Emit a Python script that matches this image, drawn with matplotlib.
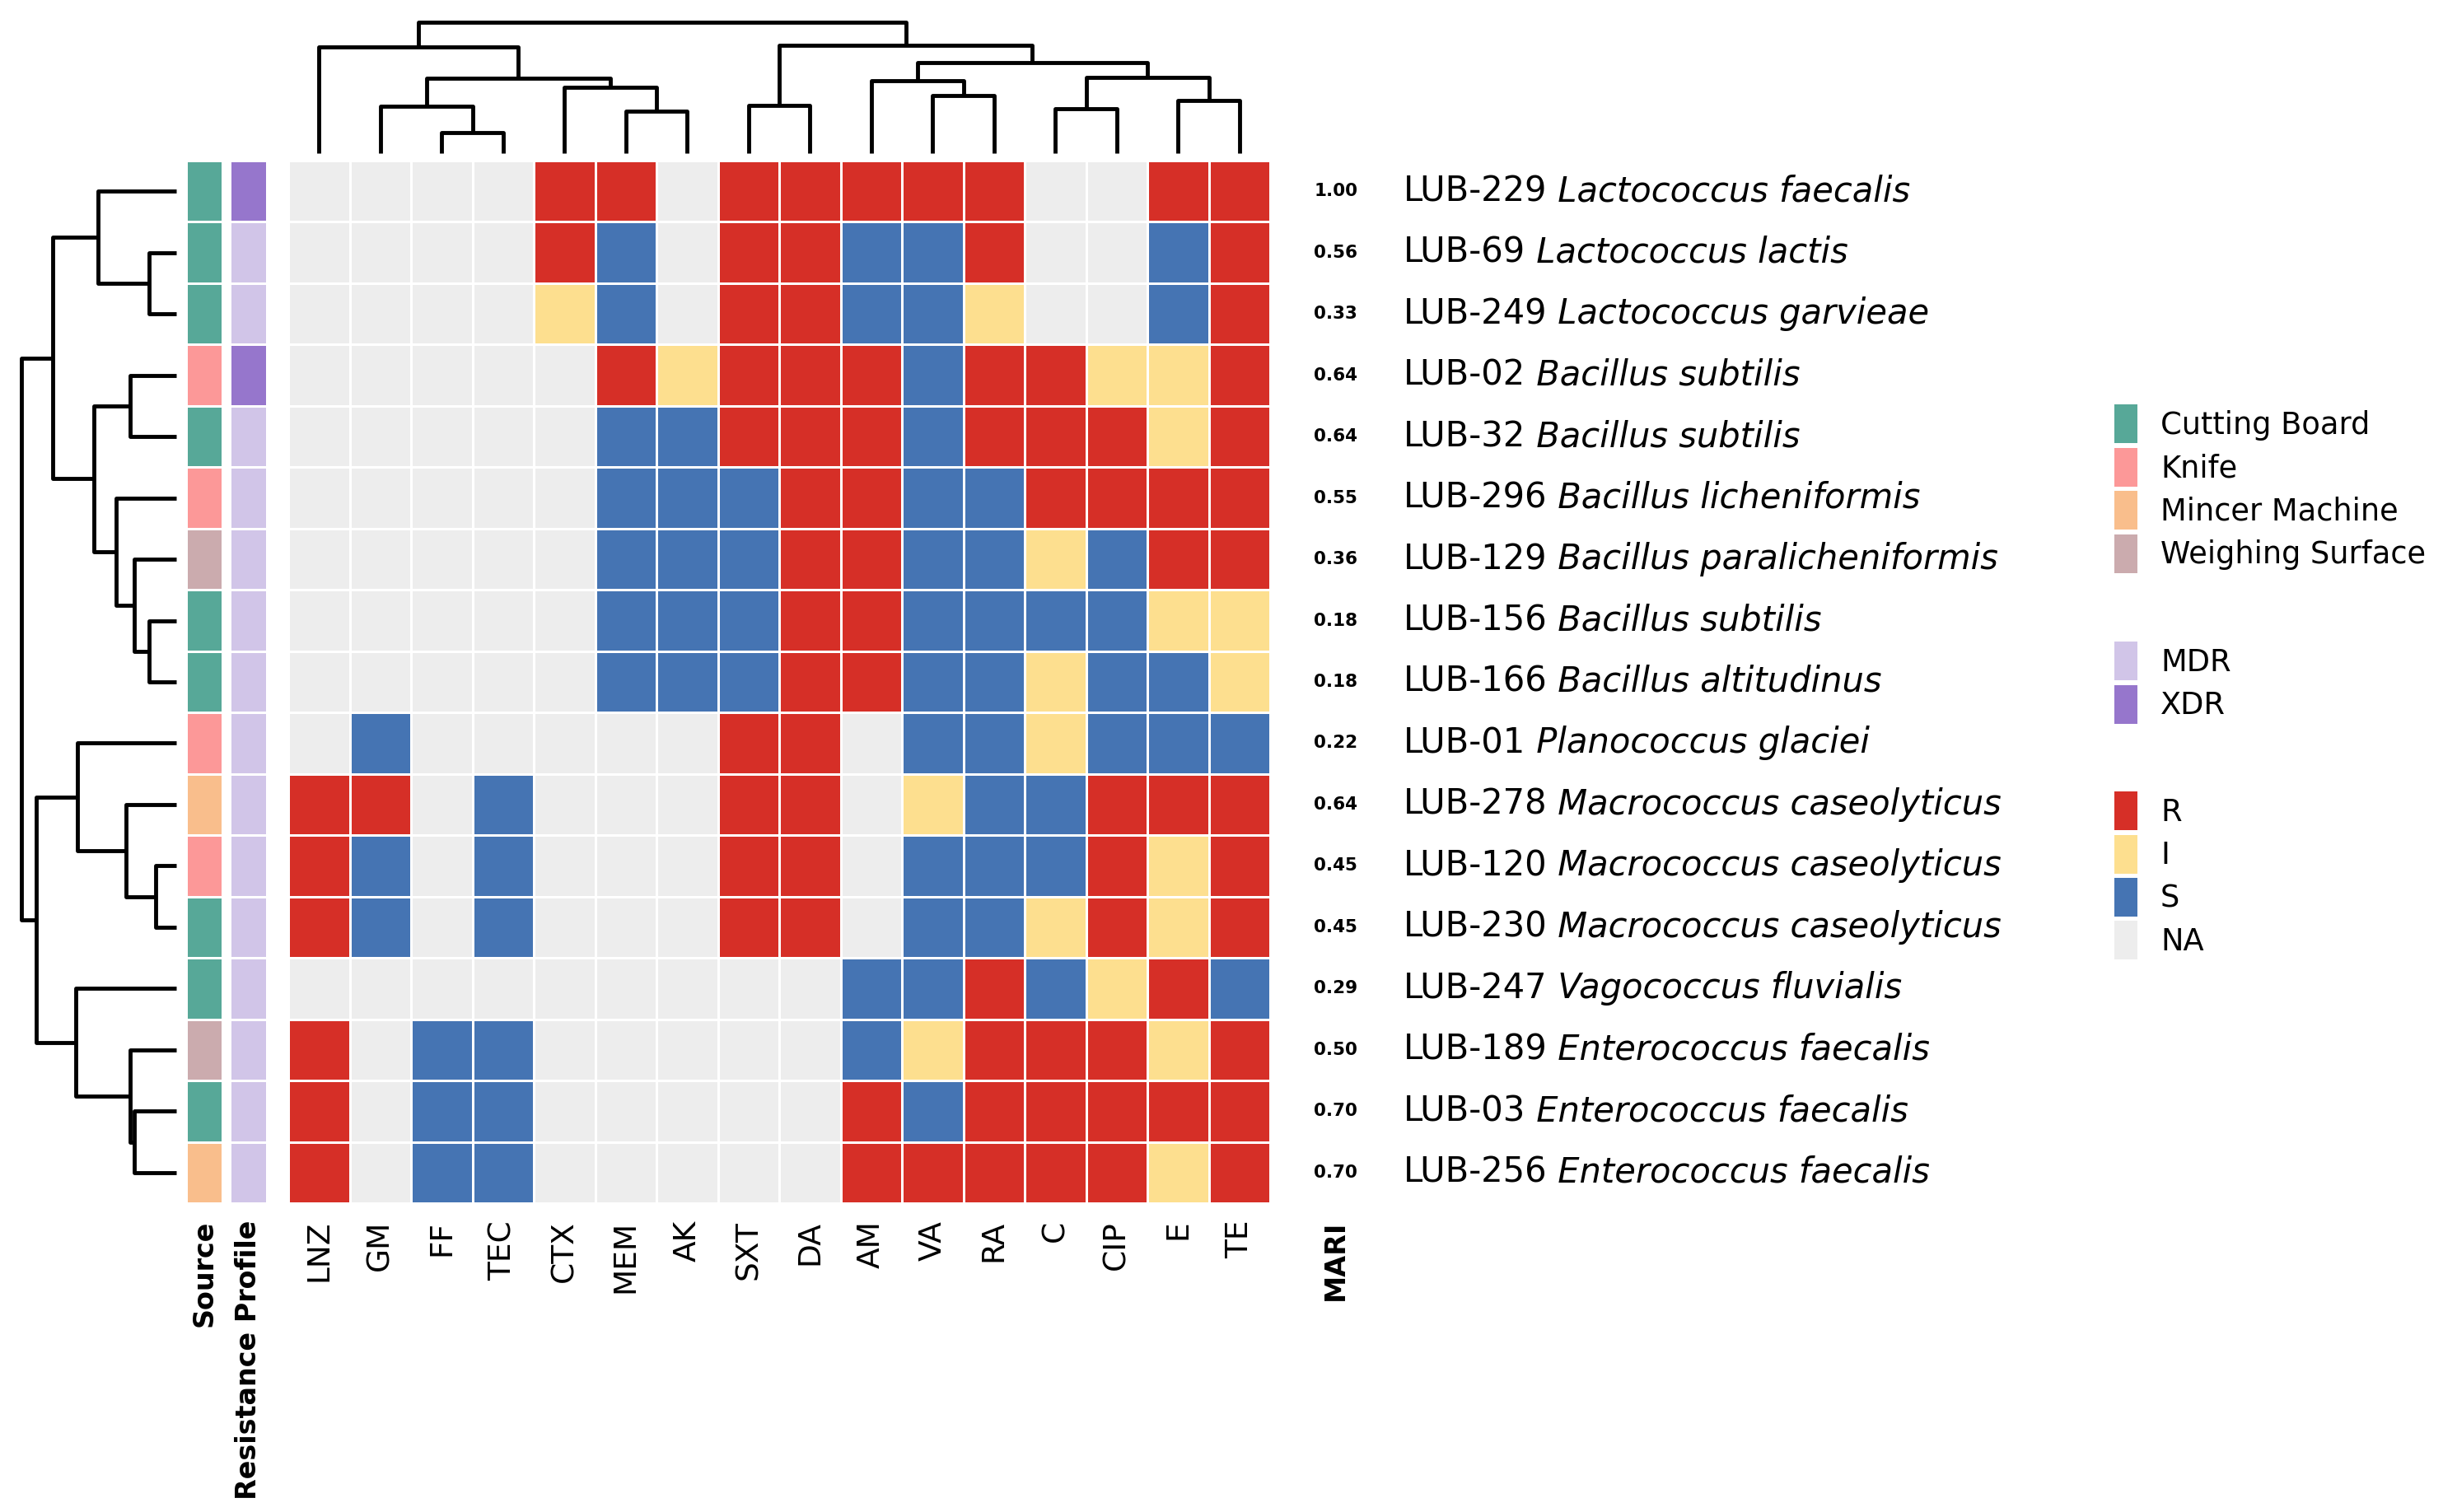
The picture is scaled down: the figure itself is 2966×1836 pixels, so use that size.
import numpy as np
import matplotlib.pyplot as plt
from matplotlib.colors import ListedColormap
from matplotlib.patches import Patch

plt.rcParams['font.family'] = ['DejaVu Sans']

# ---- data ----
antibiotics = ['LNZ', 'GM', 'FF', 'TEC', 'CTX', 'MEM', 'AK', 'SXT',
               'DA', 'AM', 'VA', 'RA', 'C', 'CIP', 'E', 'TE']
isolates = ['LUB-229', 'LUB-69', 'LUB-249', 'LUB-02', 'LUB-32', 'LUB-296',
            'LUB-129', 'LUB-156', 'LUB-166', 'LUB-01', 'LUB-278', 'LUB-120',
            'LUB-230', 'LUB-247', 'LUB-189', 'LUB-03', 'LUB-256']
species = ['Lactococcus faecalis', 'Lactococcus lactis', 'Lactococcus garvieae',
           'Bacillus subtilis', 'Bacillus subtilis', 'Bacillus licheniformis',
           'Bacillus paralicheniformis', 'Bacillus subtilis', 'Bacillus altitudinus',
           'Planococcus glaciei', 'Macrococcus caseolyticus', 'Macrococcus caseolyticus',
           'Macrococcus caseolyticus', 'Vagococcus fluvialis', 'Enterococcus faecalis',
           'Enterococcus faecalis', 'Enterococcus faecalis']
mari = [1.00, 0.56, 0.33, 0.64, 0.64, 0.55, 0.36, 0.18, 0.18,
        0.22, 0.64, 0.45, 0.45, 0.29, 0.50, 0.70, 0.70]
source = ['Cutting Board', 'Cutting Board', 'Cutting Board', 'Knife', 'Cutting Board',
          'Knife', 'Weighing Surface', 'Cutting Board', 'Cutting Board', 'Knife',
          'Mincer Machine', 'Knife', 'Cutting Board', 'Cutting Board',
          'Weighing Surface', 'Cutting Board', 'Mincer Machine']
profile = ['XDR', 'MDR', 'MDR', 'XDR', 'MDR', 'MDR', 'MDR', 'MDR', 'MDR',
           'MDR', 'MDR', 'MDR', 'MDR', 'MDR', 'MDR', 'MDR', 'MDR']
results = [
    'NA NA NA NA R  R  NA R  R  R  R  R  NA NA R  R',
    'NA NA NA NA R  S  NA R  R  S  S  R  NA NA S  R',
    'NA NA NA NA I  S  NA R  R  S  S  I  NA NA S  R',
    'NA NA NA NA NA R  I  R  R  R  S  R  R  I  I  R',
    'NA NA NA NA NA S  S  R  R  R  S  R  R  R  I  R',
    'NA NA NA NA NA S  S  S  R  R  S  S  R  R  R  R',
    'NA NA NA NA NA S  S  S  R  R  S  S  I  S  R  R',
    'NA NA NA NA NA S  S  S  R  R  S  S  S  S  I  I',
    'NA NA NA NA NA S  S  S  R  R  S  S  I  S  S  I',
    'NA S  NA NA NA NA NA R  R  NA S  S  I  S  S  S',
    'R  R  NA S  NA NA NA R  R  NA I  S  S  R  R  R',
    'R  S  NA S  NA NA NA R  R  NA S  S  S  R  I  R',
    'R  S  NA S  NA NA NA R  R  NA S  S  I  R  I  R',
    'NA NA NA NA NA NA NA NA NA S  S  R  S  I  R  S',
    'R  NA S  S  NA NA NA NA NA S  I  R  R  R  I  R',
    'R  NA S  S  NA NA NA NA NA R  S  R  R  R  R  R',
    'R  NA S  S  NA NA NA NA NA R  R  R  R  R  I  R',
]
levels = ['R', 'I', 'S', 'NA']
level_colors = ['#D62F27', '#FDDF8F', '#4574B3', '#EDEDED']
sources = ['Cutting Board', 'Knife', 'Mincer Machine', 'Weighing Surface']
source_colors = ['#57A898', '#FC9898', '#F9BE8C', '#CBABAE']
profiles = ['MDR', 'XDR']
profile_colors = ['#D1C5E8', '#9676CC']

# dendrogram merges: (child a, child b, height); children >= n are earlier merges
col_merges = [(2, 3, 25), (1, 16, 57), (5, 6, 51), (4, 18, 80), (17, 19, 91),
              (0, 20, 129), (7, 8, 58), (10, 11, 70), (9, 23, 88), (12, 13, 54),
              (14, 15, 64), (25, 26, 92), (24, 27, 110), (22, 28, 131), (21, 29, 159)]
row_merges = [(1, 2, 33), (0, 17, 95), (3, 4, 56), (7, 8, 33), (6, 20, 51),
              (5, 21, 73), (19, 22, 100), (18, 23, 150), (11, 12, 25), (10, 25, 61),
              (9, 26, 120), (15, 16, 51), (14, 28, 56), (13, 29, 122), (27, 30, 170),
              (24, 31, 188)]

W, H = 2966, 1836
fig = plt.figure(figsize=(W / 100, H / 100), dpi=100)


def rect(x0, y0, x1, y1):
    return [x0 / W, 1 - y1 / H, (x1 - x0) / W, (y1 - y0) / H]


def dendro(ax, merges, n, vertical):
    pos = {i: (i + 0.5, 0) for i in range(n)}
    for k, (a, b, h) in enumerate(merges):
        (pa, ha), (pb, hb) = pos[a], pos[b]
        xs = [pa, pa, pb, pb]
        ys = [ha, h, h, hb]
        if vertical:
            ax.plot(xs, ys, color='black', lw=3.5, clip_on=False, solid_capstyle='butt')
        else:
            ax.plot(ys, xs, color='black', lw=3.5, clip_on=False, solid_capstyle='butt')
        pos[n + k] = ((pa + pb) / 2, h)


nr, nc = len(isolates), len(antibiotics)
top, bot = 195, 1461
codes = np.array([[levels.index(v) for v in r.split()] for r in results])

ax = fig.add_axes(rect(350, top, 1542, bot))
ax.pcolormesh(codes, cmap=ListedColormap(level_colors), vmin=-0.5, vmax=3.5,
              edgecolors='white', linewidth=1.0)
ax.set_xlim(0, nc)
ax.set_ylim(nr, 0)
ax.set_yticks([])
ax.set_xticks(np.arange(nc) + 0.5)
ax.set_xticklabels(antibiotics, rotation=90, fontsize=27)
ax.tick_params(length=0, pad=15)
for s in ax.spines.values():
    s.set_visible(False)

for i in range(nr):
    ax.text(17.07, i + 0.5, f'{mari[i]:.2f}', ha='center', va='center',
            fontsize=15.5, fontweight='bold', clip_on=False)
    t = ax.text(18.17, i + 0.5, isolates[i], ha='left', va='center', fontsize=30)
    ax.annotate(' ' + species[i], xy=(1, 0), xycoords=t, ha='left', va='bottom',
                fontsize=30, style='italic')
ax.text(17.07, nr + 0.28, 'MARI', rotation=90, ha='center', va='top',
        fontsize=24, fontweight='bold', clip_on=False)

# annotation columns
for (x0, x1), vals, cats, cols, name in [
        ((226, 270), source, sources, source_colors, 'Source'),
        ((279, 324), profile, profiles, profile_colors, 'Resistance Profile')]:
    a = fig.add_axes(rect(x0, top, x1, bot))
    c = np.array([[cats.index(v)] for v in vals])
    a.pcolormesh(c, cmap=ListedColormap(cols), vmin=-0.5, vmax=len(cols) - 0.5,
                 edgecolors='white', linewidth=1.0)
    a.set_xlim(0, 1)
    a.set_ylim(nr, 0)
    a.set_yticks([])
    a.set_xticks([0.5])
    a.set_xticklabels([name], rotation=90, fontsize=24, fontweight='bold')
    a.tick_params(length=0, pad=15)
    for s in a.spines.values():
        s.set_visible(False)

# dendrograms
axc = fig.add_axes(rect(350, 27, 1542, 186))
dendro(axc, col_merges, nc, True)
axc.set_xlim(0, nc)
axc.set_ylim(0, col_merges[-1][2])
axc.axis('off')

axr = fig.add_axes(rect(26, top, 214, bot))
dendro(axr, row_merges, nr, False)
axr.set_ylim(nr, 0)
axr.set_xlim(row_merges[-1][2], 0)
axr.axis('off')

# legends (box 28 x 47 px, pitch 52.5 px)
fs = 26.5
em = fs * 100 / 72
box_h = 47 / em
hh = (box_h - 0.245) / 0.65
for labels, cols, ytop in [(sources, source_colors, 491),
                           (profiles, profile_colors, 779),
                           (levels, level_colors, 961)]:
    handles = [Patch(facecolor=c, edgecolor='none') for c in cols]
    fig.legend(handles, labels, loc='upper left',
               bbox_to_anchor=(2567 / W, 1 - ytop / H), frameon=False,
               fontsize=fs, handlelength=28 / em, handleheight=hh,
               labelspacing=5.5 / em, handletextpad=28 / em,
               borderpad=0, borderaxespad=0)

fig.savefig('out.png', dpi=100, facecolor='white')
